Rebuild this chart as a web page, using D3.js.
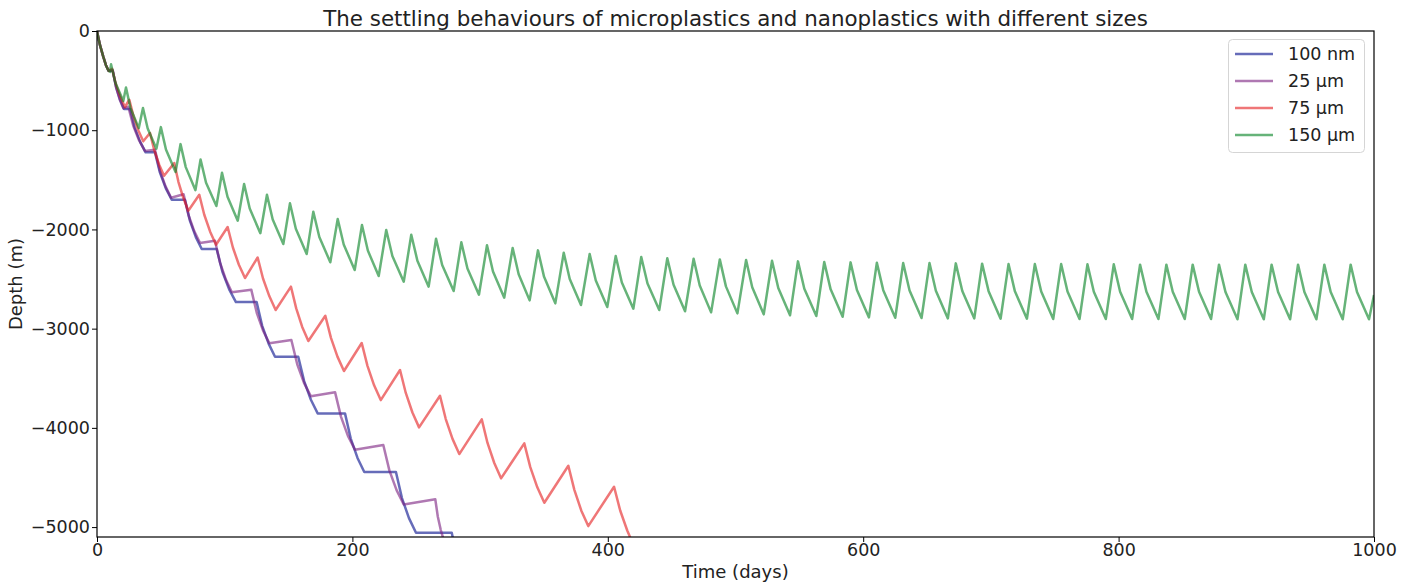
<!DOCTYPE html>
<html>
<head>
<meta charset="utf-8">
<script src="https://cdnjs.cloudflare.com/ajax/libs/d3/7.8.5/d3.min.js"></script>
<style>
  body { margin: 0; background: #fff; }
  svg { font-family: "DejaVu Sans", sans-serif; }
</style>
</head>
<body>
<div id="chart-area"></div>
<script>
// Series: [time (days), depth (m)]
var nm100 = [
  [0,0],[1,-62],[2.3,-140],[4.9,-259],[7,-345],[9,-400],
  [12.3,-400],[15.0,-568],[18.1,-694],[21.2,-786],
  [25.8,-786],[29.5,-974],[33.8,-1118],[38.1,-1223],
  [45.4,-1223],[49.3,-1428],[53.9,-1586],[58.5,-1700],
  [68.9,-1700],[72.8,-1914],[77.4,-2078],[82,-2197],
  [93.7,-2197],[98.2,-2427],[103.5,-2604],[108.8,-2732],
  [125,-2732],[129.3,-2969],[134.4,-3151],[139.4,-3283],
  [157.6,-3283],[162.2,-3529],[167.5,-3717],[172.8,-3854],
  [194.2,-3854],[198.7,-4108],[204,-4303],[209.3,-4445],
  [234.1,-4445],[238.8,-4708],[244.3,-4910],[249.8,-5057],
  [277.8,-5057],[279.5,-5160]
];

var um25 = [
  [0,0],[1,-62],[2.3,-140],[4.9,-259],[7,-345],[9,-400],
  [12.3,-394],[14.8,-560],[17.7,-687],[20.6,-780],
  [24.5,-763],[28.4,-955],[33.0,-1103],[37.6,-1210],
  [45.4,-1198],[49.2,-1405],[53.6,-1564],[58,-1680],
  [67.8,-1645],[71.7,-1857],[76.2,-2019],[80.7,-2137],
  [92.4,-2114],[96.4,-2337],[101,-2508],[105.6,-2633],
  [120.8,-2607],[125.1,-2840],[130.0,-3018],[135,-3148],
  [152.2,-3115],[156.8,-3359],[162.1,-3546],[167.5,-3682],
  [186.4,-3640],[191.1,-3889],[196.5,-4081],[202,-4220],
  [224.2,-4173],[229,-4431],[234.6,-4628],[240.2,-4772],
  [264.9,-4720],[266.9,-4896],[269.2,-5030],[271.5,-5130]
];

var um75 = [
  [0,0],[1,-62],[2.3,-140],[4.9,-259],[7,-345],[9.2,-402],
  [11.8,-382],[14.8,-536],[18.4,-666],[21.9,-766],
  [25.3,-693],[28.6,-861],[32.4,-1003],[36.2,-1112],
  [41.5,-1028],[44.8,-1200],[48.7,-1347],[52.5,-1459],
  [60.5,-1331],[63.8,-1523],[67.7,-1686],[71.5,-1811],
  [80.1,-1650],[84,-1852],[88.6,-2023],[93.2,-2154],
  [102.3,-1976],[106.4,-2182],[111.1,-2356],[115.9,-2490],
  [125.8,-2283],[130,-2495],[135,-2674],[139.9,-2812],
  [151.9,-2577],[156,-2796],[160.7,-2983],[165.5,-3125],
  [178.8,-2870],[183.2,-3093],[188.3,-3282],[193.4,-3427],
  [207.3,-3145],[211.8,-3375],[217,-3571],[222.2,-3720],
  [237.3,-3417],[241.8,-3648],[247,-3845],[252.2,-3995],
  [268.6,-3676],[273.1,-3911],[278.4,-4111],[283.7,-4264],
  [301.3,-3914],[305.8,-4152],[311.1,-4354],[316.4,-4509],
  [334.6,-4156],[339.3,-4396],[344.8,-4599],[350.3,-4755],
  [369.1,-4382],[373.8,-4625],[379.2,-4832],[384.7,-4990],
  [404.9,-4593],[409.7,-4833],[415.3,-5037],[420.5,-5193]
];

var um150 = [
  [0,0],[1,-62],[2.3,-140],[4.9,-259],[7,-345],[9,-400],[10.2,-412],
  [11.0,-336],[14.4,-521],[20.6,-706],
  [22.7,-570],[26.2,-775],[32.7,-979],
  [36.0,-777],[39.7,-982],[46.5,-1186],
  [50.0,-969],[54.0,-1195],[61.5,-1421],
  [65.4,-1140],[69.5,-1372],[77.1,-1604],
  [81.1,-1295],[85.4,-1530],[93.5,-1764],
  [97.9,-1428],[102.2,-1670],[110.2,-1912],
  [115.2,-1542],[119.6,-1790],[127.9,-2038],
  [133.1,-1650],[137.6,-1899],[145.9,-2147],
  [151.1,-1737],[155.7,-1993],[164.2,-2248],
  [169.4,-1821],[174.1,-2076],[182.7,-2331],
  [188.5,-1895],[193.2,-2152],[201.8,-2409],
  [207.5,-1956],[212.1,-2213],[220.6,-2470],
  [226.5,-2006],[231.3,-2267],[240.2,-2527],
  [246.1,-2053],[250.9,-2315],[259.7,-2577],
  [265.5,-2094],[270.3,-2358],[279.3,-2621],
  [285.3,-2130],[290.1,-2394],[299.1,-2658],
  [305.4,-2160],[310.1,-2424],[318.9,-2688],
  [325.5,-2187],[330.2,-2451],[338.8,-2715],
  [345.3,-2211],[350.1,-2478],[358.9,-2745],
  [365.5,-2235],[370.2,-2499],[379.0,-2762],
  [385.8,-2248],[390.6,-2515],[399.6,-2782],
  [406.2,-2268],[411.0,-2534],[420.0,-2799],
  [426.2,-2278],[431.1,-2545],[440.3,-2812],
  [446.6,-2291],[451.5,-2558],[460.5,-2825],
  [467.2,-2295],[472.0,-2566],[480.9,-2836],
  [487.7,-2302],[492.5,-2574],[501.5,-2846],
  [508.3,-2308],[513.1,-2582],[522.1,-2856],
  [528.6,-2315],[533.5,-2590],[542.7,-2866],
  [548.9,-2322],[553.9,-2598],[563.3,-2873],
  [569.5,-2328],[574.5,-2604],[583.9,-2880],
  [590.1,-2332],[595.1,-2610],[604.5,-2887],
  [610.7,-2335],[615.7,-2612],[625.1,-2890],
  [631.3,-2339],[636.3,-2616],[645.7,-2893],
  [651.9,-2339],[656.9,-2618],[666.3,-2897],
  [672.5,-2342],[677.6,-2620],[687.0,-2897],
  [693.1,-2345],[698.2,-2622],[707.6,-2900],
  [713.8,-2349],[718.8,-2624],[728.2,-2900],
  [734.4,-2349],[739.4,-2626],[748.8,-2903],
  [755.0,-2349],[760.0,-2626],[769.4,-2903],
  [775.6,-2352],[780.6,-2628],[790.0,-2903],
  [796.2,-2352],[801.2,-2628],[810.6,-2903],
  [816.8,-2355],[821.8,-2629],[831.2,-2903],
  [837.4,-2355],[842.4,-2629],[851.8,-2903],
  [858.0,-2355],[863.0,-2629],[872.4,-2903],
  [878.6,-2355],[883.7,-2630],[893.1,-2906],
  [899.2,-2355],[904.3,-2630],[913.7,-2906],
  [919.8,-2355],[924.9,-2630],[934.3,-2906],
  [940.5,-2355],[945.5,-2630],[954.9,-2906],
  [961.1,-2355],[966.1,-2630],[975.5,-2906],
  [981.7,-2355],[986.7,-2630],[996.1,-2906],
  [1000,-2660]
];

var seriesNames = ['100 nm', '25 \u00b5m', '75 \u00b5m', '150 \u00b5m'];
var xTicks = [0, 200, 400, 600, 800, 1000];
var yTicks = [0, -1000, -2000, -3000, -4000, -5000];

var allSeries = [nm100, um25, um75, um150];
var colors = ['#000a8a', '#7a1e7e', '#e41a1c', '#008020'];

var margin = { left: 97, right: 37, top: 31, bottom: 48 };
var width = 1411 - margin.left - margin.right,
    height = 585 - margin.top - margin.bottom;

var svg = d3.select('#chart-area')
  .append('svg')
    .attr('width', 1411)
    .attr('height', 585);

var g = svg.append('g')
  .attr('transform', 'translate(' + margin.left + ',' + margin.top + ')');

var x = d3.scaleLinear().domain([0, 1000]).range([0, width]);
var y = d3.scaleLinear().domain([-5100, 0]).range([height, 0]);

// clip lines to the plot area
svg.append('defs').append('clipPath')
    .attr('id', 'plot-clip')
  .append('rect')
    .attr('width', width)
    .attr('height', height);

var line = d3.line()
  .x(function(d) { return x(d[0]); })
  .y(function(d) { return y(d[1]); });

g.append('g')
    .attr('clip-path', 'url(#plot-clip)')
  .selectAll('path')
  .data(allSeries)
  .enter().append('path')
    .attr('d', line)
    .attr('fill', 'none')
    .attr('stroke', function(d, i) { return colors[i]; })
    .attr('stroke-opacity', 0.6)
    .attr('stroke-width', 2.5)
    .attr('stroke-linejoin', 'round');

// Axes
var xAxisCall = d3.axisBottom(x).tickValues(xTicks).tickSize(5).tickPadding(2).tickFormat(d3.format('d'));
var xAxisGroup = g.append('g')
  .attr('transform', 'translate(0,' + height + ')')
  .call(xAxisCall);

var yAxisCall = d3.axisLeft(y).tickValues(yTicks).tickSize(5).tickPadding(2).tickFormat(d3.format('d'));
var yAxisGroup = g.append('g').call(yAxisCall);

[xAxisGroup, yAxisGroup].forEach(function(ax) {
  ax.select('.domain').remove();
  ax.selectAll('line').attr('stroke', '#000').attr('stroke-width', 1);
  ax.selectAll('text')
    .attr('font-size', '17.5px')
    .attr('fill', '#222')
    .attr('font-family', '"DejaVu Sans", sans-serif');
});

// frame
g.append('rect')
  .attr('width', width)
  .attr('height', height)
  .attr('fill', 'none')
  .attr('stroke', '#000')
  .attr('stroke-width', 1.2);

// Title and labels
svg.append('text')
  .attr('x', margin.left + width / 2)
  .attr('y', 26)
  .attr('text-anchor', 'middle')
  .attr('font-size', '21.4px')
  .attr('fill', '#222')
  .text('The settling behaviours of microplastics and nanoplastics with different sizes');

svg.append('text')
  .attr('x', margin.left + width / 2)
  .attr('y', 578)
  .attr('text-anchor', 'middle')
  .attr('font-size', '18px')
  .attr('fill', '#222')
  .text('Time (days)');

svg.append('text')
  .attr('transform', 'translate(22,' + (margin.top + height / 2) + ') rotate(-90)')
  .attr('text-anchor', 'middle')
  .attr('font-size', '18px')
  .attr('fill', '#222')
  .text('Depth (m)');

// Legend
var legend = svg.append('g')
  .attr('transform', 'translate(1228.5,39.5)');

legend.append('rect')
  .attr('width', 136)
  .attr('height', 113)
  .attr('rx', 4)
  .attr('fill', '#fff')
  .attr('fill-opacity', 0.8)
  .attr('stroke', '#d5d5d5')
  .attr('stroke-width', 1);

var items = legend.selectAll('.item')
  .data(seriesNames)
  .enter().append('g')
    .attr('class', 'item')
    .attr('transform', function(d, i) { return 'translate(0,' + (14.5 + i * 27) + ')'; });

items.append('line')
  .attr('x1', 6.5).attr('x2', 44.5)
  .attr('stroke', function(d, i) { return colors[i]; })
  .attr('stroke-opacity', 0.6)
  .attr('stroke-width', 2.5);

items.append('text')
  .attr('x', 59.5)
  .attr('dy', '0.35em')
  .attr('font-size', '17.5px')
  .attr('fill', '#222')
  .text(function(d) { return d; });
</script>
</body>
</html>
